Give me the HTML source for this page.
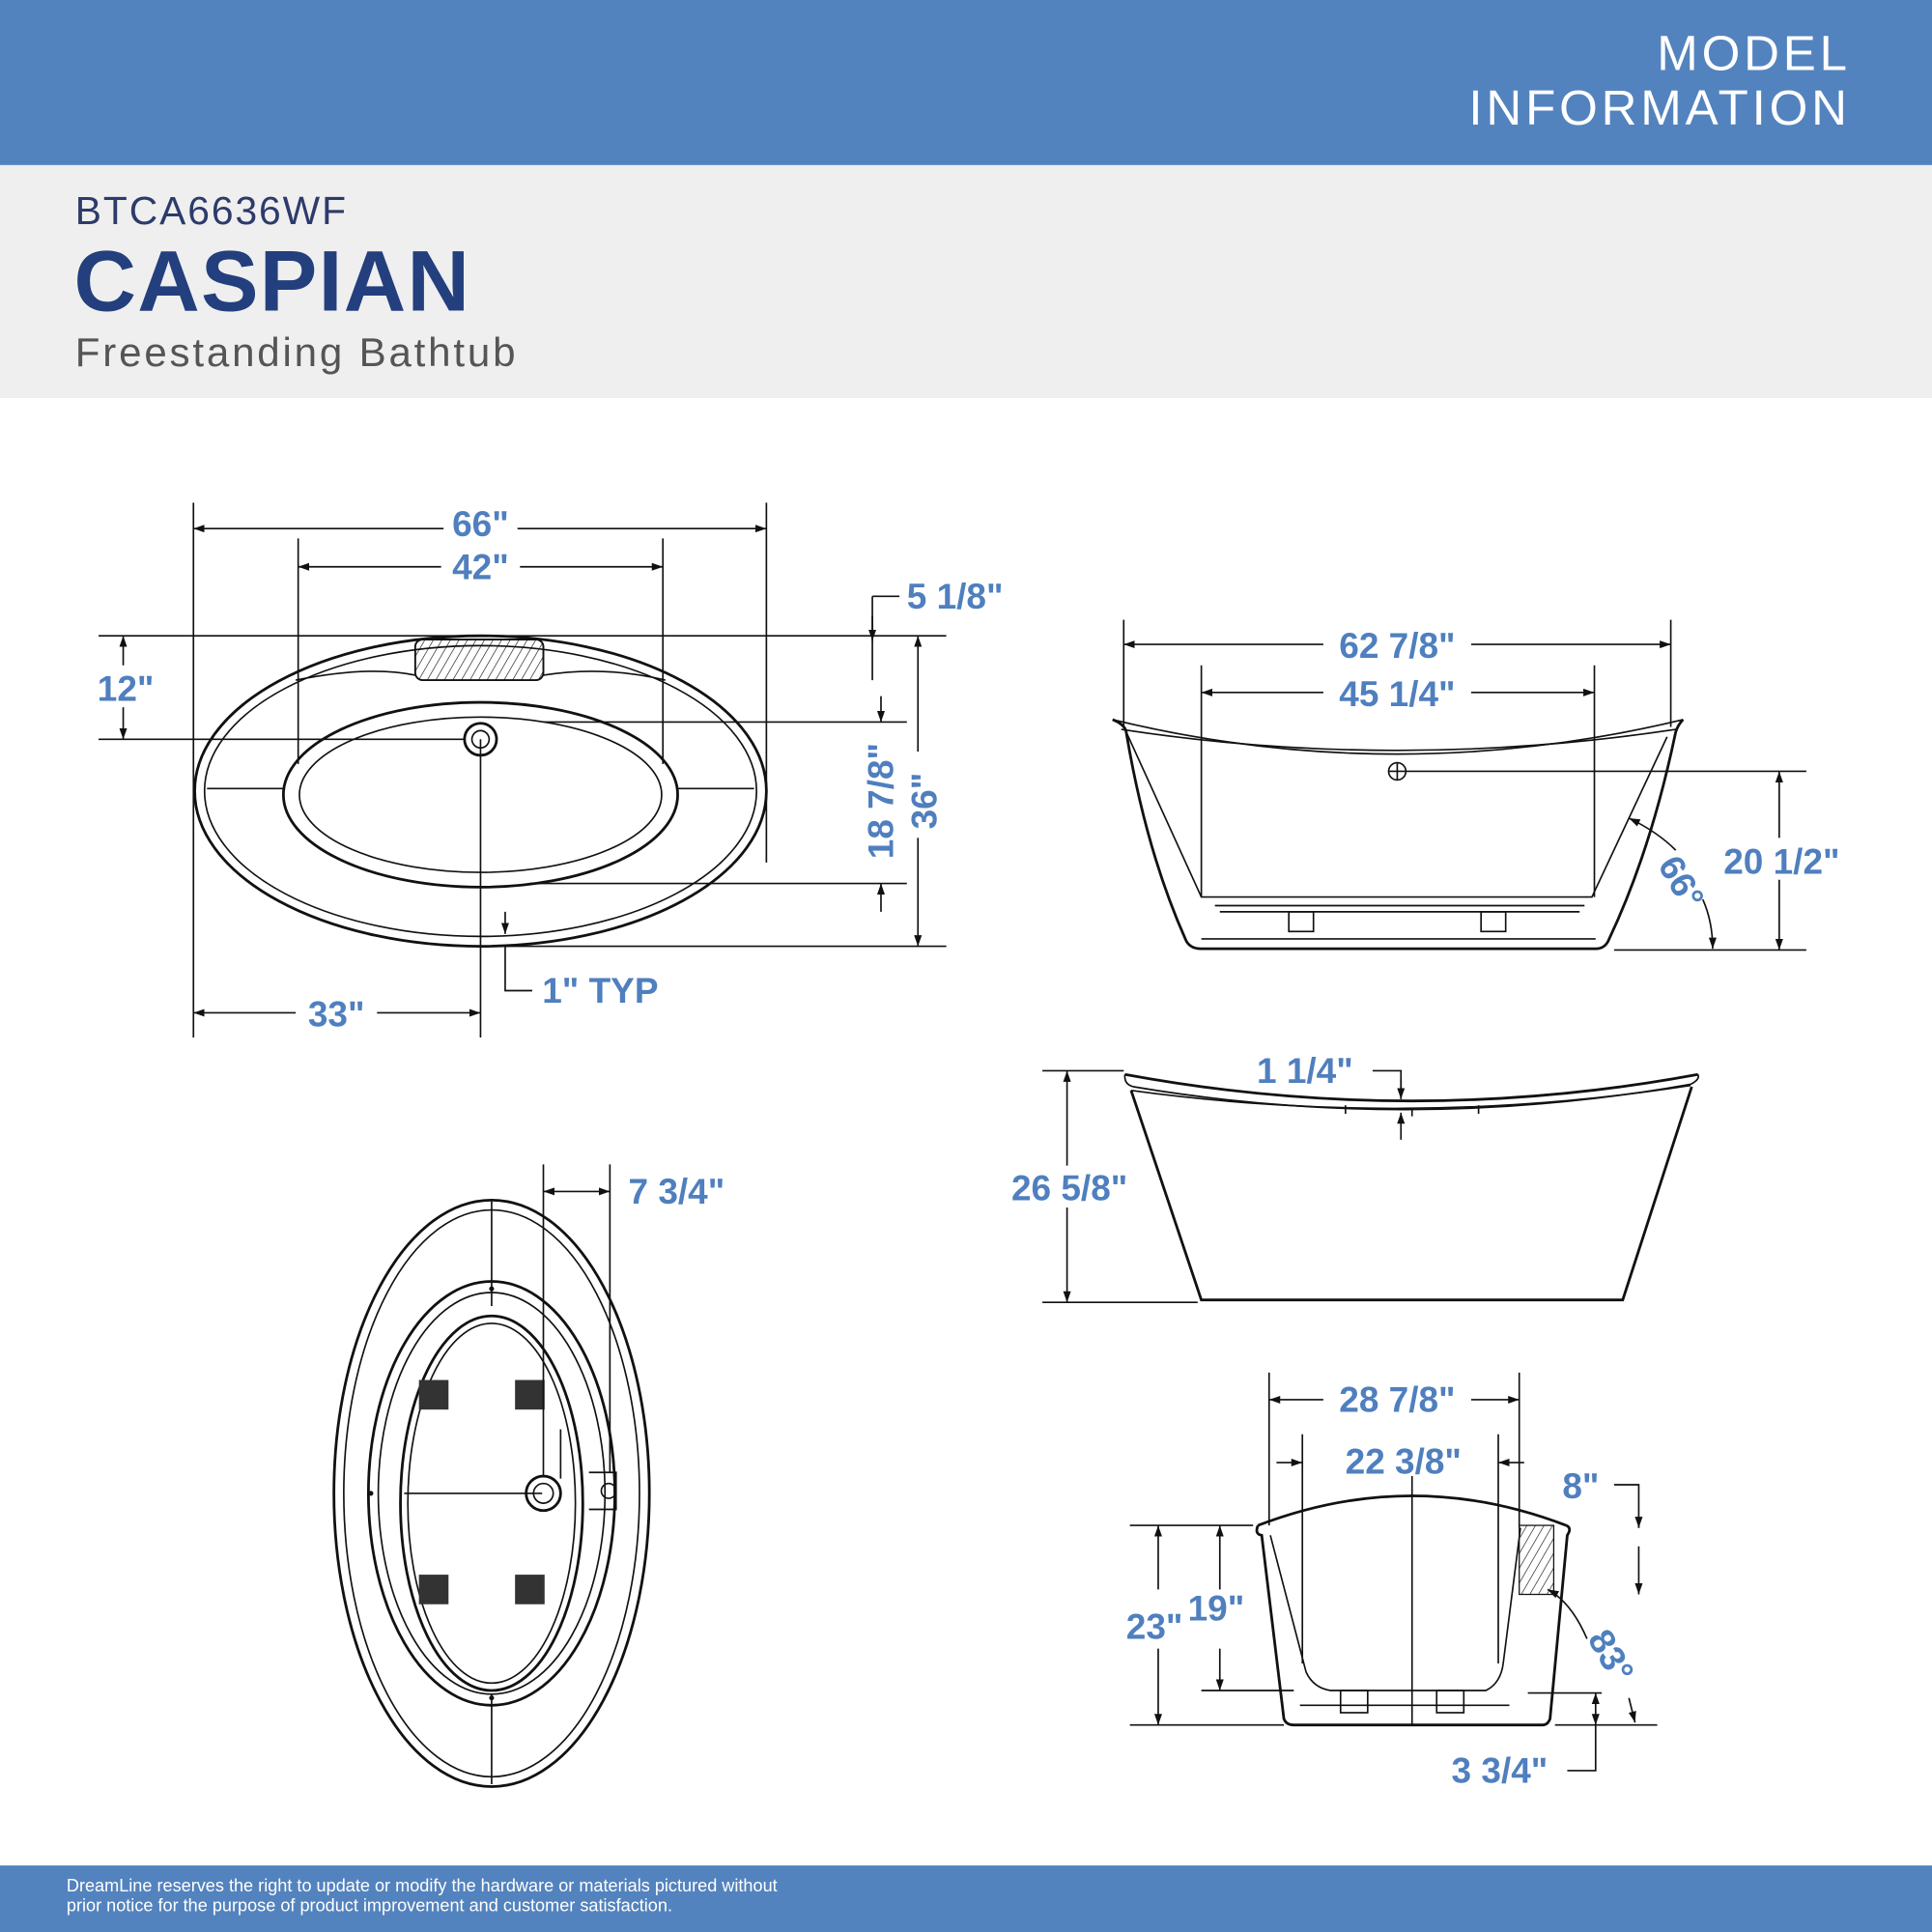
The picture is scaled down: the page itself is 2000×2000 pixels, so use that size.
<!DOCTYPE html>
<html><head><meta charset="utf-8"><style>
html,body{margin:0;padding:0;background:#fff;}
svg{display:block;}
.d{font-family:"Liberation Sans",sans-serif;font-weight:bold;fill:#4f7fbe;font-size:29px;}
.l{stroke:#111;stroke-width:1.3;fill:none;}
.t{stroke:#111;stroke-width:2.2;fill:none;}
</style></head><body>
<svg width="2000" height="2000" viewBox="0 0 1568 1568" xmlns="http://www.w3.org/2000/svg">
<defs>
<marker id="a" viewBox="0 0 10 10" refX="10" refY="5" markerWidth="9" markerHeight="9" orient="auto-start-reverse" markerUnits="userSpaceOnUse"><path d="M0,1.5 L10,5 L0,8.5z" fill="#111"/></marker>
<pattern id="h" width="6" height="6" patternUnits="userSpaceOnUse" patternTransform="rotate(30)"><line x1="0" y1="0" x2="0" y2="6" stroke="#111" stroke-width="1"/></pattern>
</defs>
<rect width="1568" height="134" fill="#5383be"/>
<text x="1502" y="57" text-anchor="end" font-family="Liberation Sans,sans-serif" font-size="40" fill="#fff" letter-spacing="3">MODEL</text>
<text x="1502" y="101" text-anchor="end" font-family="Liberation Sans,sans-serif" font-size="40" fill="#fff" letter-spacing="3">INFORMATION</text>
<rect y="134" width="1568" height="189" fill="#efefef"/>
<text x="61" y="182" font-family="Liberation Sans,sans-serif" font-size="32" fill="#2d3b6a" letter-spacing="1.5">BTCA6636WF</text>
<text x="60" y="252" font-family="Liberation Sans,sans-serif" font-weight="bold" font-size="70" fill="#233f7d" letter-spacing="1">CASPIAN</text>
<text x="61" y="297" font-family="Liberation Sans,sans-serif" font-size="33" fill="#555" letter-spacing="2.2">Freestanding Bathtub</text>
<rect y="1514" width="1568" height="54" fill="#5383be"/>
<text x="54" y="1535" font-family="Liberation Sans,sans-serif" font-size="14.2" fill="#fff">DreamLine reserves the right to update or modify the hardware or materials pictured without</text>
<text x="54" y="1551" font-family="Liberation Sans,sans-serif" font-size="14.2" fill="#fff">prior notice for the purpose of product improvement and customer satisfaction.</text>

<!-- TOP VIEW -->
<g>
<ellipse cx="390" cy="642" rx="232" ry="126" class="t"/>
<ellipse cx="390" cy="642" rx="224" ry="118" class="l"/>
<ellipse cx="390" cy="645" rx="160" ry="75" class="t"/>
<ellipse cx="390" cy="645" rx="147" ry="63" class="l"/>
<path d="M168,640 L230,640 M550,640 L612,640 M240,552 Q300,540 337,548 M441,548 Q490,540 540,552" class="l"/>
<rect x="337" y="519" width="104" height="33" rx="6" fill="url(#h)" stroke="#111" stroke-width="1.5"/>
<circle cx="390" cy="600" r="13" class="t"/><circle cx="390" cy="600" r="7" class="l"/>
<path d="M157,408 V842 M622,408 V700 M242,437 V620 M538,437 V620 M390,600 V842" class="l"/>
<line x1="157" y1="429" x2="622" y2="429" class="l" marker-start="url(#a)" marker-end="url(#a)"/>
<rect x="360" y="410" width="60" height="32" fill="#fff"/><text x="390" y="435" class="d" text-anchor="middle">66"</text>
<line x1="242" y1="460" x2="538" y2="460" class="l" marker-start="url(#a)" marker-end="url(#a)"/>
<rect x="358" y="443" width="64" height="32" fill="#fff"/><text x="390" y="470" class="d" text-anchor="middle">42"</text>
<path d="M80,516 H768 M80,600 H376 M441,586 H736 M430,717 H736 M410,768 H768" class="l"/>
<line x1="100" y1="516" x2="100" y2="600" class="l" marker-start="url(#a)" marker-end="url(#a)"/>
<rect x="76" y="540" width="52" height="34" fill="#fff"/><text x="102" y="569" class="d" text-anchor="middle">12"</text>
<line x1="745" y1="516" x2="745" y2="768" class="l" marker-start="url(#a)" marker-end="url(#a)"/>
<rect x="730" y="610" width="34" height="70" fill="#fff"/>
<text transform="translate(760,650) rotate(-90)" class="d" text-anchor="middle">36"</text>
<line x1="715" y1="565" x2="715" y2="586" class="l" marker-end="url(#a)"/>
<line x1="715" y1="740" x2="715" y2="717" class="l" marker-end="url(#a)"/>
<text transform="translate(725,650) rotate(-90)" class="d" text-anchor="middle">18 7/8"</text>
<path d="M708,484 H730 M708,484 V552" class="l"/>
<line x1="708" y1="500" x2="708" y2="520" class="l" marker-end="url(#a)"/>
<text x="736" y="494" class="d">5 1/8"</text>
<line x1="410" y1="740" x2="410" y2="758" class="l" marker-end="url(#a)"/>
<path d="M410,768 V804 H432" class="l"/>
<text x="440" y="814" class="d">1" TYP</text>
<line x1="157" y1="822" x2="390" y2="822" class="l" marker-start="url(#a)" marker-end="url(#a)"/>
<rect x="240" y="806" width="66" height="32" fill="#fff"/><text x="273" y="833" class="d" text-anchor="middle">33"</text>
</g>

<!-- SIDE VIEW (top right) -->
<g>
<path d="M903,584 Q913,588 914,594 Q930,690 962,762 Q965,770 975,770 H1295 Q1303,770 1306,762 Q1340,690 1360,594 Q1362,588 1366,584" class="t"/>
<path d="M903,584 Q1133,640 1366,584" class="l"/>
<path d="M910,592 Q1133,626 1360,592" class="l"/>
<path d="M914,594 L975,728 H1292 L1353,598" class="l"/>
<path d="M986,735 H1286 M990,740 H1282 M975,762 H1295" class="l"/>
<rect x="1046" y="740" width="20" height="16" class="l"/><rect x="1202" y="740" width="20" height="16" class="l"/>
<circle cx="1134" cy="626" r="7" class="l"/><path d="M1127,626 H1141 M1134,619 V633 M1141,626 H1466" class="l"/>
<path d="M912,503 V590 M1356,503 V590 M975,540 V728 M1294,540 V728 M1310,771 H1466" class="l"/>
<line x1="912" y1="523" x2="1356" y2="523" class="l" marker-start="url(#a)" marker-end="url(#a)"/>
<rect x="1074" y="506" width="120" height="34" fill="#fff"/><text x="1134" y="534" class="d" text-anchor="middle">62 7/8"</text>
<line x1="975" y1="562" x2="1294" y2="562" class="l" marker-start="url(#a)" marker-end="url(#a)"/>
<rect x="1074" y="546" width="120" height="34" fill="#fff"/><text x="1134" y="573" class="d" text-anchor="middle">45 1/4"</text>
<line x1="1444" y1="626" x2="1444" y2="771" class="l" marker-start="url(#a)" marker-end="url(#a)"/>
<rect x="1390" y="680" width="112" height="34" fill="#fff"/><text x="1446" y="709" class="d" text-anchor="middle">20 1/2"</text>
<path d="M1360,690 Q1345,675 1322,664" class="l" marker-end="url(#a)"/>
<path d="M1382,730 Q1390,748 1390,770" class="l" marker-end="url(#a)"/>
<text transform="translate(1345,702) rotate(60)" class="d">66°</text>
</g>

<!-- FRONT VIEW -->
<g>
<path d="M913,872 Q1146,915 1378,872" class="t"/>
<path d="M913,872 Q912,880 920,882 Q1146,920 1372,880 Q1380,876 1378,872" class="l"/>
<path d="M918,885 Q1146,916 1372,881" class="l"/>
<path d="M918,885 L975,1055 H1317 L1373,882" class="t"/>
<path d="M1092,897 V904 M1146,899 V906 M1200,897 V904" class="l"/>
<path d="M846,869 H912 M846,1057 H972" class="l"/>
<line x1="866" y1="869" x2="866" y2="1057" class="l" marker-start="url(#a)" marker-end="url(#a)"/>
<rect x="812" y="946" width="110" height="34" fill="#fff"/><text x="868" y="974" class="d" text-anchor="middle">26 5/8"</text>
<path d="M1114,869 H1137 V892" class="l"/><line x1="1137" y1="876" x2="1137" y2="892" class="l" marker-end="url(#a)"/>
<line x1="1137" y1="925" x2="1137" y2="903" class="l" marker-end="url(#a)"/>
<text x="1020" y="879" class="d">1 1/4"</text>
</g>

<!-- BOTTOM TOP VIEW -->
<g>
<ellipse cx="399" cy="1212" rx="128" ry="238" class="t"/>
<ellipse cx="399" cy="1212" rx="120" ry="230" class="l"/>
<ellipse cx="399" cy="1212" rx="100" ry="172" class="t"/>
<ellipse cx="399" cy="1212" rx="92" ry="163" class="l"/>
<ellipse cx="399" cy="1220" rx="74" ry="152" class="t"/>
<ellipse cx="399" cy="1220" rx="68" ry="146" class="l"/>
<path d="M399,975 V1060 M399,1375 V1448 M328,1212 H440" class="l"/>
<circle cx="399" cy="1046" r="2" fill="#111"/><circle cx="399" cy="1378" r="2" fill="#111"/><circle cx="301" cy="1212" r="2" fill="#111"/>
<rect x="340" y="1120" width="24" height="24" fill="#333"/><rect x="418" y="1120" width="24" height="24" fill="#333"/>
<rect x="340" y="1278" width="24" height="24" fill="#333"/><rect x="418" y="1278" width="24" height="24" fill="#333"/>
<circle cx="441" cy="1212" r="14" class="t"/><circle cx="441" cy="1212" r="8" class="l"/>
<path d="M455,1160 V1200 M478,1195 H500 V1225 H478" class="l"/>
<circle cx="494" cy="1210" r="6" class="l"/>
<path d="M441,945 V1198 M495,945 V1195" class="l"/>
<line x1="441" y1="967" x2="495" y2="967" class="l" marker-start="url(#a)" marker-end="url(#a)"/>
<text x="510" y="977" class="d">7 3/4"</text>
</g>

<!-- END VIEW -->
<g>
<path d="M1021,1238 Q1146,1190 1271,1238" class="t"/>
<path d="M1021,1238 Q1018,1245 1024,1246 L1042,1395 Q1044,1400 1050,1400 H1252 Q1256,1400 1258,1395 L1272,1246 Q1276,1240 1271,1238" class="t"/>
<path d="M1031,1246 L1060,1357 Q1066,1370 1080,1372 H1206 Q1218,1366 1220,1350 L1234,1240" class="l"/>
<path d="M1146,1198 V1400 M1057,1164 V1350 M1216,1164 V1350 M1030,1114 V1238 M1233,1114 V1240" class="l"/>
<rect x="1233" y="1238" width="28" height="56" fill="url(#h)" stroke="#111" stroke-width="1"/>
<rect x="1088" y="1372" width="22" height="18" class="l"/><rect x="1166" y="1372" width="22" height="18" class="l"/>
<path d="M1055,1384 H1225" class="l"/>
<path d="M917,1238 H1017 M917,1400 H1042 M1262,1400 H1345 M975,1372 H1050 M1240,1374 H1300" class="l"/>
<line x1="1030" y1="1136" x2="1233" y2="1136" class="l" marker-start="url(#a)" marker-end="url(#a)"/>
<rect x="1074" y="1118" width="120" height="34" fill="#fff"/><text x="1134" y="1146" class="d" text-anchor="middle">28 7/8"</text>
<line x1="1036" y1="1187" x2="1057" y2="1187" class="l" marker-end="url(#a)"/>
<line x1="1237" y1="1187" x2="1216" y2="1187" class="l" marker-end="url(#a)"/>
<text x="1139" y="1196" class="d" text-anchor="middle">22 3/8"</text>
<line x1="940" y1="1238" x2="940" y2="1400" class="l" marker-start="url(#a)" marker-end="url(#a)"/>
<line x1="990" y1="1238" x2="990" y2="1372" class="l" marker-start="url(#a)" marker-end="url(#a)"/>
<rect x="912" y="1290" width="108" height="48" fill="#fff"/>
<text x="914" y="1330" class="d">23"</text><text x="964" y="1315" class="d">19"</text>
<path d="M1310,1205 H1330 V1240" class="l"/>
<line x1="1330" y1="1235" x2="1330" y2="1240" class="l" marker-end="url(#a)"/>
<line x1="1330" y1="1255" x2="1330" y2="1294" class="l" marker-end="url(#a)"/>
<text x="1268" y="1216" class="d">8"</text>
<line x1="1295" y1="1374" x2="1295" y2="1400" class="l" marker-start="url(#a)" marker-end="url(#a)"/>
<path d="M1295,1400 V1437 H1272" class="l"/>
<text x="1178" y="1447" class="d">3 3/4"</text>
<path d="M1322,1378 L1327,1398" class="l" marker-end="url(#a)"/>
<path d="M1288,1330 Q1275,1300 1256,1290" class="l" marker-end="url(#a)"/>
<text transform="translate(1288,1330) rotate(60)" class="d">83°</text>
</g>
</svg>
</body></html>
